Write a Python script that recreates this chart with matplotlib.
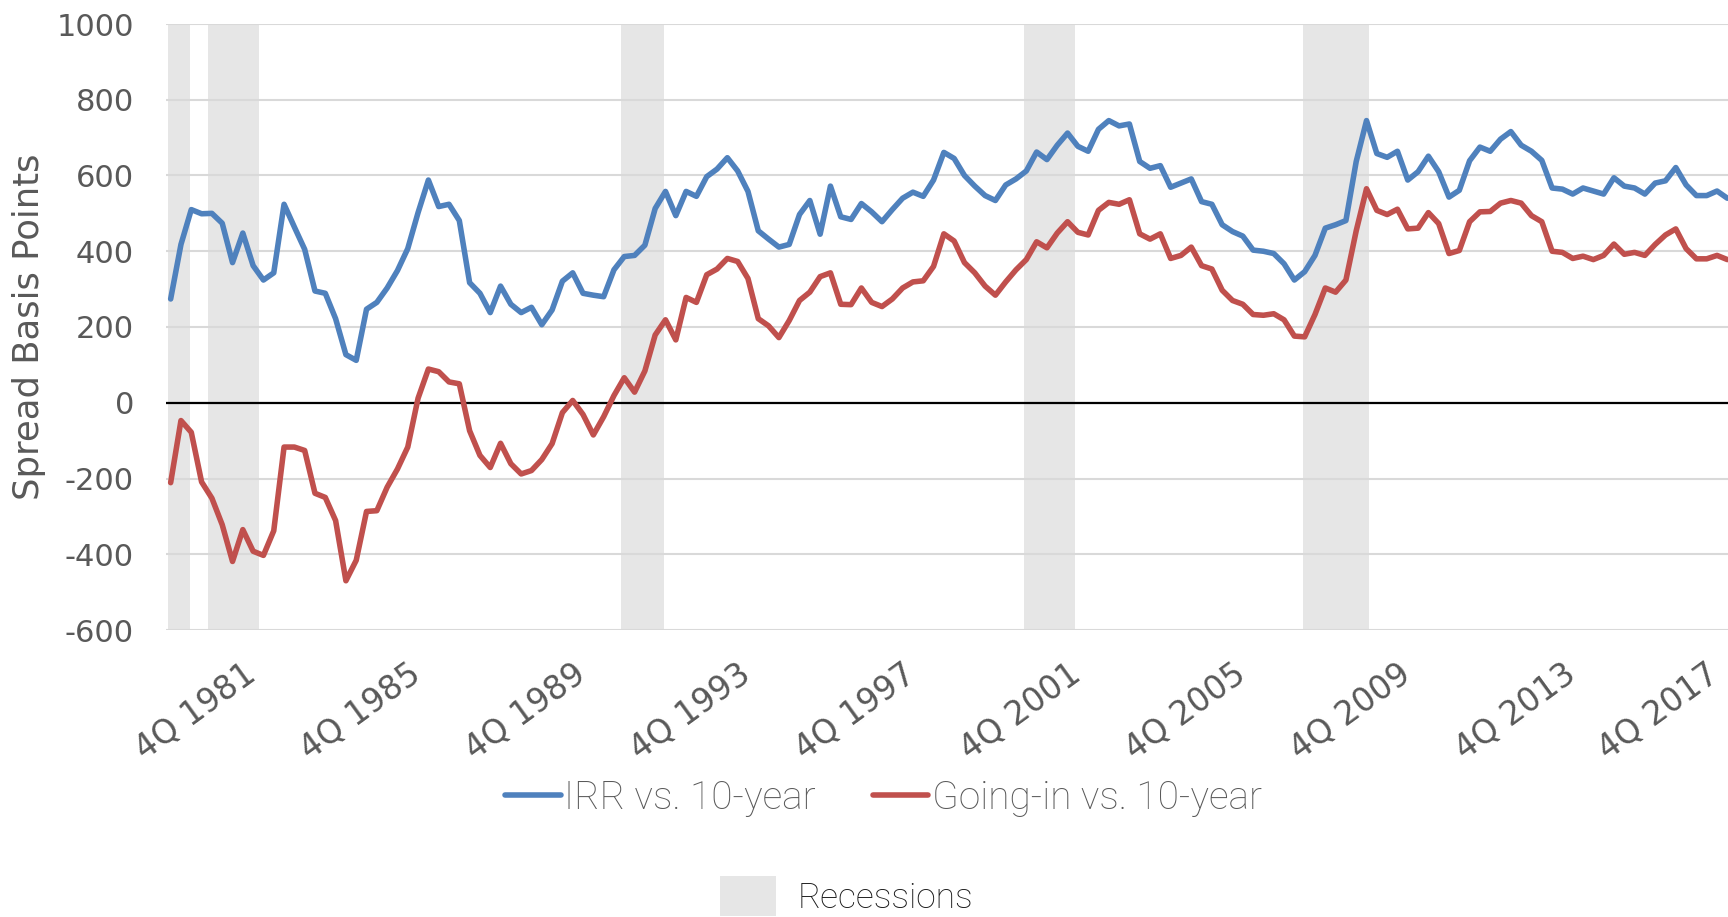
import matplotlib
matplotlib.use('Agg')
import matplotlib.pyplot as plt
from matplotlib.patches import Patch
from matplotlib.transforms import ScaledTranslation

plt.rcParams['axes.unicode_minus'] = False

# quarterly categories, 1Q 1980 .. 4Q 2017
quarters = ['%dQ %d' % (q, y) for y in range(1980, 2018) for q in range(1, 5)]

irr_spread = [
    274, 418, 510, 499, 500, 474, 370, 448, 362, 324,
    343, 524, 464, 405, 295, 289, 222, 127, 112, 247,
    265, 303, 349, 407, 502, 588, 518, 524, 481, 317,
    289, 238, 308, 260, 238, 252, 206, 245, 321, 343,
    289, 284, 280, 351, 386, 389, 416, 513, 558, 494,
    558, 545, 597, 617, 647, 612, 558, 454, 432, 411,
    418, 497, 534, 445, 572, 491, 484, 526, 504, 478,
    510, 540, 556, 545, 588, 661, 645, 600, 572, 547,
    534, 575, 591, 612, 662, 642, 680, 712, 677, 664,
    722, 745, 731, 736, 637, 619, 626, 569, 580, 591,
    531, 524, 470, 452, 440, 403, 400, 394, 367, 324,
    346, 389, 461, 470, 481, 637, 745, 658, 648, 664,
    588, 610, 651, 610, 543, 561, 639, 675, 664, 696,
    716, 680, 664, 640, 567, 564, 551, 567, 559, 551,
    594, 572, 567, 551, 580, 586, 621, 575, 547, 547,
    559, 540,
]

going_in_spread = [
    -211, -47, -78, -209, -252, -322, -419, -335, -392, -403,
    -338, -117, -117, -126, -239, -250, -311, -470, -416, -287,
    -285, -223, -175, -117, 12, 89, 82, 55, 50, -74,
    -139, -171, -107, -161, -188, -179, -150, -108, -26, 6,
    -31, -85, -37, 19, 66, 28, 84, 179, 219, 166,
    278, 265, 338, 353, 381, 373, 328, 222, 203, 172,
    217, 270, 292, 333, 343, 260, 259, 303, 265, 254,
    274, 303, 319, 322, 360, 446, 427, 370, 343, 308,
    284, 319, 351, 378, 425, 409, 448, 478, 450, 443,
    508, 529, 524, 536, 446, 432, 446, 381, 389, 411,
    362, 353, 297, 270, 260, 233, 231, 235, 219, 176,
    174, 233, 303, 292, 324, 454, 565, 508, 497, 511,
    459, 461, 502, 473, 394, 402, 478, 504, 505, 527,
    534, 527, 494, 478, 400, 397, 381, 387, 378, 389,
    419, 392, 397, 389, 418, 443, 459, 407, 380, 380,
    389, 378,
]

# recession shading, in quarter positions
rec_start = [-0.25, 3.6, 43.7, 82.75, 109.8]
rec_end = [1.85, 8.55, 47.85, 87.7, 116.2]

y_ticks = [-600, -400, -200, 0, 200, 400, 600, 800, 1000]

W, H = 1728, 917
fig = plt.figure(figsize=(W / 100, H / 100), dpi=100)
ax = fig.add_axes([165.5 / W, 1 - 630 / H, 1567 / W, 606 / H])

x = list(range(len(quarters)))
for s, e in zip(rec_start, rec_end):
    ax.axvspan(s, e, color='#e6e6e6', lw=0, zorder=0)

l1, = ax.plot(x, irr_spread, color='#4f81bd', lw=4.0, label='IRR vs. 10-year',
              solid_joinstyle='round', solid_capstyle='round', zorder=3)
l2, = ax.plot(x, going_in_spread, color='#c0504d', lw=4.0, label='Going-in vs. 10-year',
              solid_joinstyle='round', solid_capstyle='round', zorder=3)

ax.set_xlim(-0.5, 151.5)
ax.set_ylim(-600, 1000)
ax.set_yticks(y_ticks)
ax.yaxis.grid(True, color='#d9d9d9', lw=1.5)
ax.set_axisbelow(True)
ax.axhline(0, color='black', lw=1.6, zorder=2)

for sp in ax.spines.values():
    sp.set_visible(False)

tick_pos = list(range(7, len(quarters), 16))
ax.set_xticks(tick_pos)
ax.set_xticklabels([quarters[i] for i in tick_pos])
ax.tick_params(axis='both', length=0, labelsize=22, labelcolor='#595959')
ax.tick_params(axis='x', labelsize=23.5, pad=20)
ax.tick_params(axis='y', pad=22.7)
for lab in ax.get_xticklabels():
    lab.set_rotation(36)
    lab.set_ha('right')
    lab.set_va('top')
    lab.set_rotation_mode('anchor')
# last label is pulled in so it stays inside the picture
last = ax.get_xticklabels()[-1]
last.set_transform(last.get_transform() + ScaledTranslation(-0.22, 0, fig.dpi_scale_trans))

fig.text(29 / W, 1 - 327 / H, 'Spread Basis Points', rotation=90,
         ha='center', va='center', fontsize=25.5, color='#595959')

lprop = {'family': 'Roboto', 'size': 28, 'weight': 'light'}
leg1 = fig.legend(handles=[l1, l2], loc='center', bbox_to_anchor=(883.5 / W, 1 - 798 / H),
                  ncol=2, frameon=False, prop=lprop, handlelength=1.42,
                  handletextpad=0.1, columnspacing=1.45, labelcolor='#595959')
rprop = {'family': 'Roboto', 'size': 25.5, 'weight': 'light'}
leg2 = fig.legend(handles=[Patch(facecolor='#e6e6e6', label='Recessions')], loc='center',
                  bbox_to_anchor=(846.5 / W, 1 - 896 / H), frameon=False, prop=rprop,
                  handlelength=1.6, handleheight=1.35, handletextpad=0.6,
                  labelcolor='#1a1a1a')

fig.savefig('out.png', dpi=100)
